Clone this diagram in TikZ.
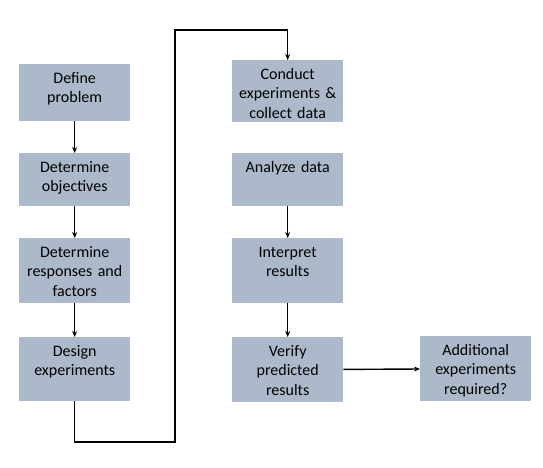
\documentclass[tikz,border=0pt]{standalone}
\usepackage{fontspec}
\setmainfont{Carlito}
\usepackage{tikz}
\usetikzlibrary{arrows.meta,positioning}
\definecolor{boxfill}{HTML}{ACB9CA}

\begin{document}
\begin{tikzpicture}[
    x=1pt, y=-1pt,
    box/.style={fill=boxfill, anchor=north west, inner xsep=0pt, inner ysep=0pt,
                text width=111pt, align=center, text height=19pt,
                font=\fontsize{16}{19.4}\selectfont},
    arr/.style={-{Stealth[length=6pt,width=5pt]}, line width=1.4pt, color=black}
]
  \useasboundingbox (0,0) rectangle (543,467);
  % Left column
  \node[box, text depth=38pt] (define) at (19,64) {Define\\problem};
  \node[box, text depth=34pt] (objectives) at (19,153) {Determine\\objectives};
  \node[box, text depth=46pt] (factors) at (19,238) {Determine\\responses and\\factors};
  \node[box, text depth=45pt] (design) at (19,337) {Design\\experiments};
  % Right column
  \node[box, text depth=43pt] (conduct) at (232,60) {Conduct\\experiments \&\\collect data};
  \node[box, text depth=34pt] (analyze) at (232,153) {Analyze data};
  \node[box, text depth=46pt] (interpret) at (232,238) {Interpret\\results};
  \node[box, text depth=46pt] (verify) at (232,337) {Verify\\predicted\\results};
  % Follow-up
  \node[box, text depth=46pt] (additional) at (420,336) {Additional\\experiments\\required?};
  % Arrows
  \draw[arr] (define) -- (objectives);
  \draw[arr] (objectives) -- (factors);
  \draw[arr] (factors) -- (design);
  \draw[arr] (design.south) -- (design.south |- 0,442) -| (175,30) -| (conduct.north);
  \draw[arr] (analyze) -- (interpret);
  \draw[arr] (interpret) -- (verify);
  \draw[arr] (verify) -- (additional);
\end{tikzpicture}
\end{document}
